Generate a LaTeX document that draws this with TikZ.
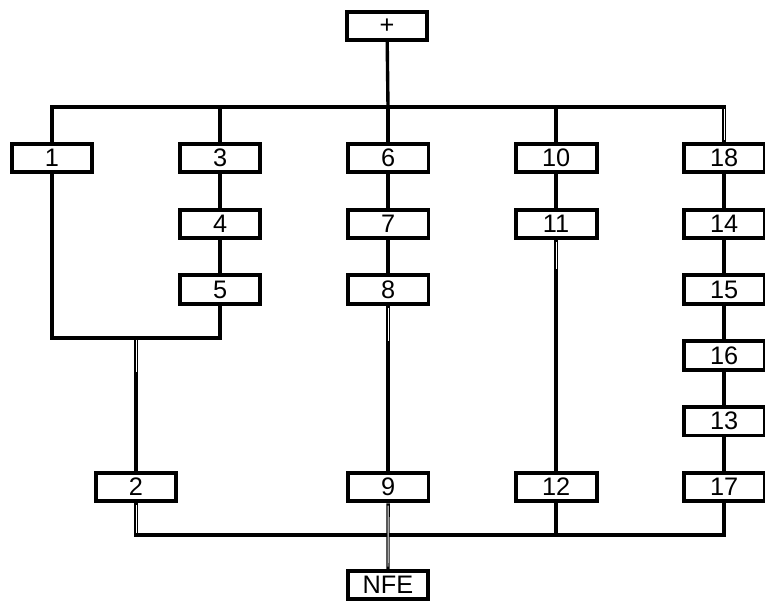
\documentclass[tikz,border=0pt]{standalone}
\usepackage{fontspec}
\setmainfont{Liberation Sans}
\begin{document}
\begin{tikzpicture}[x=0.025cm, y=-0.025cm, node distance=4.2cm,
    every node/.style={draw, line width=2.8pt, minimum width=2.02cm, minimum height=0.71cm, inner sep=1pt, font=\fontsize{18}{20}\selectfont},
    link/.style={line width=2.4pt}, gapline/.style={draw=white, line width=0.7pt}]
    \useasboundingbox (0,0) rectangle (765,602);
    \node (plus) at (387,26) {+};
    \node (b1) at (52,158) {1};
    \node (b3) [right of=b1] {3};
    \node (b6) [right of=b3] {6};
    \node (b10) [right of=b6] {10};
    \node (b18) [right of=b10] {18};
    \node (b4) [below of=b3, node distance=1.645cm] {4};
    \node (b5) [below of=b4, node distance=1.645cm] {5};
    \node (b7) [below of=b6, node distance=1.645cm] {7};
    \node (b8) [below of=b7, node distance=1.645cm] {8};
    \node (b11) [below of=b10, node distance=1.645cm] {11};
    \node (b14) [below of=b18, node distance=1.645cm] {14};
    \node (b15) [below of=b14, node distance=1.645cm] {15};
    \node (b16) [below of=b15, node distance=1.645cm] {16};
    \node (b13) [below of=b16, node distance=1.645cm] {13};
    \node (b17) [below of=b13, node distance=1.645cm] {17};
    \node (b2) at (136,487) {2};
    \node (b9) [below of=b8, node distance=4.935cm] {9};
    \node (b12) [below of=b11, node distance=6.58cm] {12};
    \node (nfe) at (388,585) {NFE};
    \coordinate (tb) at (388,107);
    \coordinate (lb) at (136,338);
    \coordinate (bb) at (388,535);
    % top bus
    \draw[link] (plus) -- (tb);
    \draw[link] (b1.north) |- (tb) -| (b18.north);
    \foreach \b in {b3,b6,b10}
      \draw[link] (\b.north) -- (\b.north |- tb);
    % columns
    \draw[link] (b3) -- (b4) -- (b5);
    \draw[link] (b1.south) |- (lb) -| (b5.south);
    \draw[link] (lb) -- (b2);
    \draw[link] (b6) -- (b7) -- (b8) -- (b9);
    \draw[link] (b10) -- (b11) -- (b12);
    \draw[link] (b18) -- (b14) -- (b15) -- (b16) -- (b13) -- (b17);
    % bottom bus
    \draw[link] (b2.south) |- (bb) -| (b17.south);
    \draw[link] (b12.south) -- (b12.south |- bb);
    \draw[link] (b9) -- (nfe);
    % hollow bits
    \draw[gapline] ([yshift=-1.4pt]b18.north |- tb) -- ([yshift=1.6pt]b18.north);
    \draw[gapline] ([yshift=-1.3pt]lb) -- ++(0,32);
    \draw[gapline] ([yshift=-1.6pt]b8.south) -- ++(0,33);
    \draw[gapline] ([yshift=-1.6pt]b11.south) -- ++(0,27);
    \draw[gapline] ([yshift=-1.6pt]b2.south) -- ([yshift=1.3pt]b2.south |- bb);
    \draw[gapline] ([yshift=-1.6pt]b9.south) -- ([yshift=1.6pt]nfe.north);
  \end{tikzpicture}
\end{document}
